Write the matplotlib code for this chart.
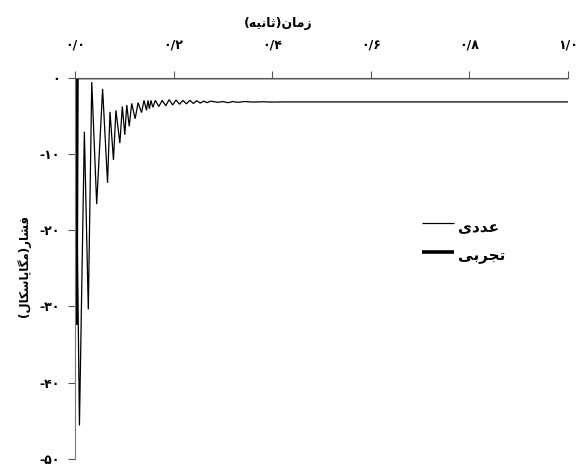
import matplotlib
matplotlib.use("Agg")
import matplotlib.pyplot as plt

# ---------------- data ----------------
num_t = [0.000, 0.001, 0.009, 0.019, 0.027, 0.034, 0.044, 0.056, 0.066, 0.071,
         0.078, 0.083, 0.091, 0.096, 0.101, 0.105, 0.110, 0.115, 0.122, 0.128,
         0.135, 0.140, 0.145, 0.148, 0.151, 0.154, 0.158, 0.163, 0.170, 0.177,
         0.184, 0.191, 0.198, 0.205, 0.212, 0.219, 0.226, 0.233, 0.240, 0.247,
         0.254, 0.261, 0.268, 0.275, 0.290, 0.300, 0.310, 0.320, 0.330, 0.345,
         0.360, 0.380, 0.400, 0.420, 1.000]
num_p = [0.0, 0.0, -45.6, -7.1, -30.4, -0.6, -16.6, -1.5, -13.8, -4.5,
         -10.8, -4.3, -8.6, -3.8, -7.5, -3.6, -6.4, -3.4, -5.4, -3.3,
         -4.6, -3.0, -4.3, -3.0, -4.1, -3.0, -3.9, -3.0, -3.8, -3.0,
         -3.7, -2.9, -3.6, -2.95, -3.5, -3.0, -3.45, -3.0, -3.4, -3.05,
         -3.35, -3.1, -3.3, -3.1, -3.25, -3.15, -3.3, -3.15, -3.25, -3.15,
         -3.22, -3.18, -3.22, -3.2, -3.2]

exp_t = [0.000, 0.002, 0.004, 1.000]
exp_p = [0.0, -32.4, 0.0, 0.0]

xticks = [0.0, 0.2, 0.4, 0.6, 0.8, 1.0]
xticklabels = ["۰/۰", "۰/۲", "۰/۴", "۰/۶", "۰/۸", "۱/۰"]
yticks = [0, -10, -20, -30, -40, -50]
yticklabels = ["۰", "-۱۰", "-۲۰", "-۳۰", "-۴۰", "-۵۰"]

xlabel_txt = "زمان(ثانیه)"
ylabel_txt = "فشار(مگاپاسکال)"
series_names = ["عددی", "تجربی"]

# --------- minimal Persian shaping (presentation forms) ---------
FORMS = {
    'ا': ('\uFE8D', '\uFE8E', None, None),
    'ب': ('\uFE8F', '\uFE90', '\uFE91', '\uFE92'),
    'پ': ('\uFB56', '\uFB57', '\uFB58', '\uFB59'),
    'ت': ('\uFE95', '\uFE96', '\uFE97', '\uFE98'),
    'ث': ('\uFE99', '\uFE9A', '\uFE9B', '\uFE9C'),
    'ج': ('\uFE9D', '\uFE9E', '\uFE9F', '\uFEA0'),
    'د': ('\uFEA9', '\uFEAA', None, None),
    'ر': ('\uFEAD', '\uFEAE', None, None),
    'ز': ('\uFEAF', '\uFEB0', None, None),
    'س': ('\uFEB1', '\uFEB2', '\uFEB3', '\uFEB4'),
    'ش': ('\uFEB5', '\uFEB6', '\uFEB7', '\uFEB8'),
    'ع': ('\uFEC9', '\uFECA', '\uFECB', '\uFECC'),
    'ف': ('\uFED1', '\uFED2', '\uFED3', '\uFED4'),
    'ک': ('\uFB8E', '\uFB8F', '\uFB90', '\uFB91'),
    'گ': ('\uFB92', '\uFB93', '\uFB94', '\uFB95'),
    'ل': ('\uFEDD', '\uFEDE', '\uFEDF', '\uFEE0'),
    'م': ('\uFEE1', '\uFEE2', '\uFEE3', '\uFEE4'),
    'ن': ('\uFEE5', '\uFEE6', '\uFEE7', '\uFEE8'),
    'ه': ('\uFEE9', '\uFEEA', '\uFEEB', '\uFEEC'),
    'ی': ('\uFBFC', '\uFBFD', '\uFBFE', '\uFBFF'),
}
MIRROR = {'(': ')', ')': '('}


def shape(s):
    out = []
    n = len(s)
    for i, c in enumerate(s):
        if c not in FORMS:
            out.append(MIRROR.get(c, c))
            continue
        prev = s[i - 1] if i > 0 else None
        nxt = s[i + 1] if i < n - 1 else None
        jp = prev in FORMS and FORMS[prev][2] is not None
        jn = FORMS[c][2] is not None and nxt in FORMS
        iso, fin, ini, med = FORMS[c]
        if jp and jn:
            out.append(med)
        elif jp:
            out.append(fin)
        elif jn:
            out.append(ini)
        else:
            out.append(iso)
    return ''.join(reversed(out))


plt.rcParams['font.family'] = ['DejaVu Sans']

W, H = 577, 466
ax_l, ax_r, ax_t, ax_b = 75, 568, 77.5, 459
fig = plt.figure(figsize=(W / 100, H / 100), dpi=100)
ax = fig.add_axes([ax_l / W, 1 - ax_b / H, (ax_r - ax_l) / W, (ax_b - ax_t) / H])

ax.plot(num_t, num_p, color='black', lw=0.9, solid_joinstyle='miter')
ax.plot(exp_t, exp_p, color='black', lw=2.6, solid_joinstyle='miter')

ax.set_xlim(0, 1.0)
ax.set_ylim(-50, 0)
ax.xaxis.tick_top()
ax.set_xticks(xticks)
ax.set_xticklabels(xticklabels, fontsize=9, fontweight='bold')
ax.set_yticks(yticks)
ax.set_yticklabels(yticklabels, fontsize=9, fontweight='bold')
ax.tick_params(axis='x', direction='out', length=5, width=0.8, color='#555555', pad=14)
ax.tick_params(axis='y', direction='out', length=5, width=0.8, color='#555555', pad=6)
for side in ['right', 'bottom']:
    ax.spines[side].set_visible(False)
ax.spines['left'].set_color('#777777')
ax.spines['left'].set_linewidth(0.8)
ax.spines['top'].set_color('#555555')
ax.spines['top'].set_linewidth(0.8)

fig.text(278 / W, 1 - 24 / H, shape(xlabel_txt), ha='center', va='center',
         fontsize=9, fontweight='bold')
fig.text(24 / W, 1 - 266 / H, shape(ylabel_txt), ha='center', va='center',
         rotation=90, fontsize=8.5, fontweight='bold')

# legend drawn manually in axes coordinates
lx0, lx1 = (422 - ax_l) / (ax_r - ax_l), (454 - ax_l) / (ax_r - ax_l)
for name, lw, ypix in [(series_names[0], 0.9, 223), (series_names[1], 2.6, 252)]:
    yy = (ax_b - ypix) / (ax_b - ax_t)
    ax.plot([lx0, lx1], [yy, yy], transform=ax.transAxes, color='black', lw=lw,
            solid_capstyle='butt')
    ax.text((458 - ax_l) / (ax_r - ax_l), yy - 0.012, shape(name), transform=ax.transAxes,
            ha='left', va='center', fontsize=11, fontweight='bold')

fig.savefig('out.png', dpi=100)
